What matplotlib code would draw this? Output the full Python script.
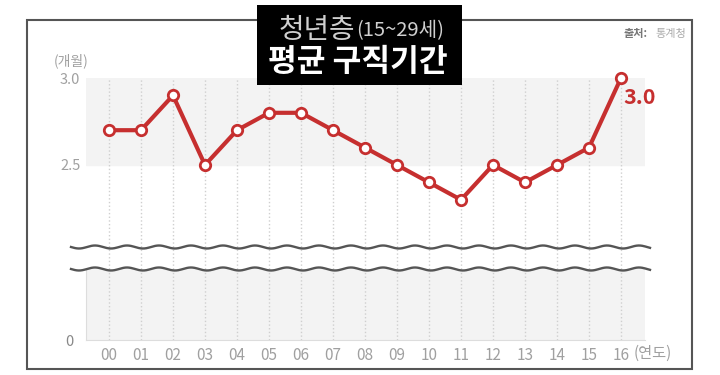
import numpy as np
import matplotlib
matplotlib.use("Agg")
import matplotlib.pyplot as plt
from matplotlib.patches import Rectangle
from matplotlib.lines import Line2D

plt.rcParams['font.family'] = ['Noto Sans CJK KR', 'DejaVu Sans']

years = ['00', '01', '02', '03', '04', '05', '06', '07', '08',
         '09', '10', '11', '12', '13', '14', '15', '16']
months = [2.7, 2.7, 2.9, 2.5, 2.7, 2.8, 2.8, 2.7, 2.6,
          2.5, 2.4, 2.3, 2.5, 2.4, 2.5, 2.6, 3.0]

W, H = 720, 375
red = '#c62f2f'
band = '#f3f3f3'
tick_c = '#a0a0a0'


def fx(x):
    return x / W


def fy(y):
    return 1 - y / H


fig = plt.figure(figsize=(7.2, 3.75), dpi=100)

# axes placement in pixels
left, right = 86, 645
top1, bot1 = 78, 269
top2, bot2 = 269, 340

ax1 = fig.add_axes([fx(left), fy(bot1), fx(right - left), (bot1 - top1) / H])
ax2 = fig.add_axes([fx(left), fy(bot2), fx(right - left), (bot2 - top2) / H])

x = np.arange(len(years))
step = (621 - 109) / 16
xl = (-(109 - left) / step, 16 + (right - 621) / step)

# top part: 3.0 at y=78, 2.5 at y=165
per_px = 0.5 / (165 - 78)
ax1.set_ylim(2.5 - (bot1 - 165) * per_px, 3.0)
ax1.set_xlim(*xl)
ax1.axhspan(2.5, 3.0, color=band, zorder=0)
ax1.plot(x, months, color=red, lw=3, marker='o', ms=7.5, mfc='white',
         mec=red, mew=2, clip_on=False, zorder=5)
ax1.set_yticks([2.5, 3.0])
ax1.set_yticklabels(['2.5', '3.0'])
ax1.set_xticks(x)
ax1.tick_params(axis='x', length=0, labelbottom=False)
ax1.tick_params(axis='y', length=0, pad=4, labelsize=10.5, labelcolor=tick_c)
ax1.grid(axis='x', linestyle=':', color='#cfcfcf', lw=1)
for s in ax1.spines.values():
    s.set_visible(False)
ax1.annotate('3.0', (x[-1], months[-1]), xytext=(2, -14), textcoords='offset points',
             ha='left', va='center', color=red, fontsize=15.5, fontweight='bold')

# bottom part
ax2.set_facecolor(band)
ax2.set_xlim(*xl)
ax2.set_ylim(0, 1)
ax2.set_yticks([0])
ax2.set_yticklabels(['0'])
ax2.set_xticks(x)
ax2.set_xticklabels(years)
ax2.tick_params(axis='x', length=0, pad=5, labelsize=11, labelcolor=tick_c)
ax2.tick_params(axis='y', length=0, pad=9, labelsize=10.5, labelcolor='#888888')
ax2.grid(axis='x', linestyle=':', color='#cfcfcf', lw=1)
for s in ['top', 'right']:
    ax2.spines[s].set_visible(False)
for s in ['left', 'bottom']:
    ax2.spines[s].set_color('#dddddd')

fig.text(fx(653), fy(353), '(연도)', ha='center', va='center',
         fontsize=11, color=tick_c)
fig.text(fx(71), fy(61), '(개월)', ha='center', va='center',
         fontsize=10, color=tick_c)

# break marks
wx = np.linspace(71, 650, 600)
for wy in (247, 269):
    fig.add_artist(Line2D(fx(wx), fy(wy + 1.5 * np.sin((wx - 71) / step * 2 * np.pi)),
                          color='#555555', lw=1.7, zorder=10))

# outer frame
fig.add_artist(Rectangle((fx(27), fy(369)), fx(692 - 27), (369 - 20) / H,
                         fill=False, ec='#555555', lw=1.5, zorder=1))

# title box
fig.add_artist(Rectangle((fx(257), fy(85)), fx(462 - 257), (85 - 5) / H,
                         fc='black', ec='none', zorder=20))
fig.text(fx(355), fy(38), '청년층', ha='right', va='baseline',
         fontsize=20, color='#cfcfcf', zorder=21)
fig.text(fx(356), fy(36), '(15~29세)', ha='left', va='baseline',
         fontsize=14.5, color='#cfcfcf', zorder=21)
fig.text(fx(358), fy(62), '평균 구직기간', ha='center', va='center',
         fontsize=22.5, fontweight='bold', color='white', zorder=21)

fig.text(fx(647), fy(34), '출처:', ha='right', va='center',
         fontsize=8, fontweight='bold', color='#777777')
fig.text(fx(655), fy(34), '통계청', ha='left', va='center',
         fontsize=8, color='#aaaaaa')

fig.savefig('out.png', dpi=100)
